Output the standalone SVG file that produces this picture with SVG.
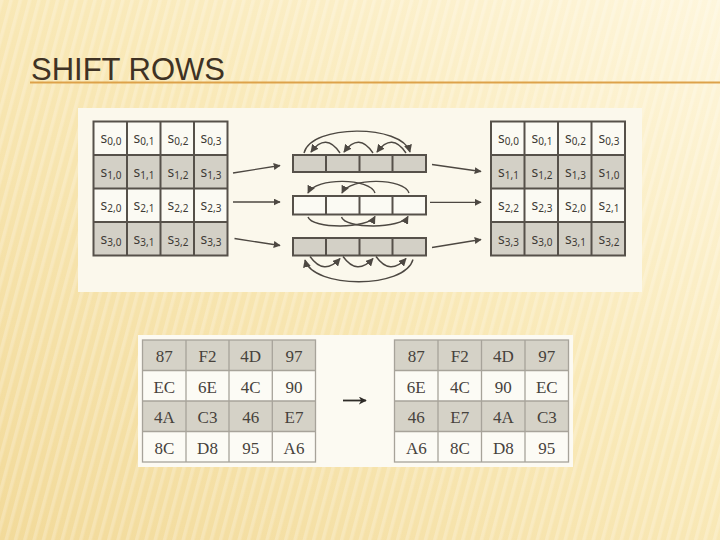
<svg xmlns="http://www.w3.org/2000/svg" width="720" height="540" viewBox="0 0 720 540">
<defs>
<linearGradient id="bg" x1="0" y1="1" x2="1" y2="0">
<stop offset="0" stop-color="#f2da9a"/>
<stop offset="0.55" stop-color="#f9e9b8"/>
<stop offset="1" stop-color="#fef6dc"/>
</linearGradient>
<pattern id="stripes" width="9" height="9" patternUnits="userSpaceOnUse" patternTransform="rotate(15)">
<rect x="0" y="0" width="3.5" height="9" fill="#ffffff" opacity="0.22"/>
</pattern>
<marker id="ah" viewBox="0 0 10 10" refX="9" refY="5" markerWidth="7" markerHeight="7" markerUnits="userSpaceOnUse" orient="auto">
<path d="M0,0 L10,5 L0,10 Z" fill="#4d4842"/>
</marker>
<marker id="ahs" viewBox="0 0 10 10" refX="9" refY="5" markerWidth="8" markerHeight="8" markerUnits="userSpaceOnUse" orient="auto">
<path d="M0,0 L10,5 L0,10 Z" fill="#4d4842"/>
</marker>
<marker id="ahb" viewBox="0 0 10 10" refX="9" refY="5" markerWidth="8" markerHeight="8" markerUnits="userSpaceOnUse" orient="auto">
<path d="M0,0 L10,5 L0,10 L3,5 Z" fill="#2e2b28"/>
</marker>
</defs>
<style>
.title{font-family:"Liberation Sans",Arial,sans-serif;font-size:31px;fill:#3f3224}
.sc{stroke:#56514a;stroke-width:2}
.g{fill:#d3d0c6}
.w{fill:#fbfaf3}
.s{font-family:"Noto Sans","Open Sans",sans-serif;font-size:14px;fill:#3e3a35;text-anchor:middle}
.sub{font-size:10px}
.bc{stroke:#a7a39a;stroke-width:1.3}
.bg2{fill:#d5d2c7}
.bw{fill:#fcfbf5}
.n{font-family:"Liberation Serif","Times New Roman",serif;font-size:17px;fill:#47423c;text-anchor:middle}
.c{fill:none;stroke:#4d4842;stroke-width:1.4}
.a{fill:none;stroke:#4d4842;stroke-width:1.3}
</style>
<rect x="0" y="0" width="720" height="540" fill="url(#bg)"/>
<rect x="0" y="0" width="720" height="540" fill="url(#stripes)"/>
<text class="title" x="31" y="80">SHIFT ROWS</text>
<line x1="30" y1="82.5" x2="720" y2="82.5" stroke="#dda24a" stroke-width="2"/>

<rect x="78" y="108" width="564" height="184" fill="#fbf8ec"/>
<rect x="138" y="335" width="435" height="132" fill="#fcfaf2"/>

<g id="left-state">
<rect class="w" x="93.5" y="121.5" width="134" height="33.5"/>
<rect class="g" x="93.5" y="155" width="134" height="33.5"/>
<rect class="w" x="93.5" y="188.5" width="134" height="33.5"/>
<rect class="g" x="93.5" y="222" width="134" height="33.5"/>
<g class="sc" fill="none">
<rect x="93.5" y="121.5" width="134" height="134"/>
<line x1="127" y1="121.5" x2="127" y2="255.5"/><line x1="160.5" y1="121.5" x2="160.5" y2="255.5"/><line x1="194" y1="121.5" x2="194" y2="255.5"/>
<line x1="93.5" y1="155" x2="227.5" y2="155"/><line x1="93.5" y1="188.5" x2="227.5" y2="188.5"/><line x1="93.5" y1="222" x2="227.5" y2="222"/>
</g>
<text class="s" x="111" y="143">s<tspan class="sub" dy="2">0,0</tspan></text>
<text class="s" x="144" y="143">s<tspan class="sub" dy="2">0,1</tspan></text>
<text class="s" x="178" y="143">s<tspan class="sub" dy="2">0,2</tspan></text>
<text class="s" x="211" y="143">s<tspan class="sub" dy="2">0,3</tspan></text>
<text class="s" x="111" y="176.5">s<tspan class="sub" dy="2">1,0</tspan></text>
<text class="s" x="144" y="176.5">s<tspan class="sub" dy="2">1,1</tspan></text>
<text class="s" x="178" y="176.5">s<tspan class="sub" dy="2">1,2</tspan></text>
<text class="s" x="211" y="176.5">s<tspan class="sub" dy="2">1,3</tspan></text>
<text class="s" x="111" y="210">s<tspan class="sub" dy="2">2,0</tspan></text>
<text class="s" x="144" y="210">s<tspan class="sub" dy="2">2,1</tspan></text>
<text class="s" x="178" y="210">s<tspan class="sub" dy="2">2,2</tspan></text>
<text class="s" x="211" y="210">s<tspan class="sub" dy="2">2,3</tspan></text>
<text class="s" x="111" y="243.5">s<tspan class="sub" dy="2">3,0</tspan></text>
<text class="s" x="144" y="243.5">s<tspan class="sub" dy="2">3,1</tspan></text>
<text class="s" x="178" y="243.5">s<tspan class="sub" dy="2">3,2</tspan></text>
<text class="s" x="211" y="243.5">s<tspan class="sub" dy="2">3,3</tspan></text>
</g>

<g id="right-state">
<rect class="w" x="491" y="121.5" width="134" height="33.5"/>
<rect class="g" x="491" y="155" width="134" height="33.5"/>
<rect class="w" x="491" y="188.5" width="134" height="33.5"/>
<rect class="g" x="491" y="222" width="134" height="33.5"/>
<g class="sc" fill="none">
<rect x="491" y="121.5" width="134" height="134"/>
<line x1="524.5" y1="121.5" x2="524.5" y2="255.5"/><line x1="558" y1="121.5" x2="558" y2="255.5"/><line x1="591.5" y1="121.5" x2="591.5" y2="255.5"/>
<line x1="491" y1="155" x2="625" y2="155"/><line x1="491" y1="188.5" x2="625" y2="188.5"/><line x1="491" y1="222" x2="625" y2="222"/>
</g>
<text class="s" x="508.5" y="143">s<tspan class="sub" dy="2">0,0</tspan></text>
<text class="s" x="542" y="143">s<tspan class="sub" dy="2">0,1</tspan></text>
<text class="s" x="575.5" y="143">s<tspan class="sub" dy="2">0,2</tspan></text>
<text class="s" x="609" y="143">s<tspan class="sub" dy="2">0,3</tspan></text>
<text class="s" x="508.5" y="176.5">s<tspan class="sub" dy="2">1,1</tspan></text>
<text class="s" x="542" y="176.5">s<tspan class="sub" dy="2">1,2</tspan></text>
<text class="s" x="575.5" y="176.5">s<tspan class="sub" dy="2">1,3</tspan></text>
<text class="s" x="609" y="176.5">s<tspan class="sub" dy="2">1,0</tspan></text>
<text class="s" x="508.5" y="210">s<tspan class="sub" dy="2">2,2</tspan></text>
<text class="s" x="542" y="210">s<tspan class="sub" dy="2">2,3</tspan></text>
<text class="s" x="575.5" y="210">s<tspan class="sub" dy="2">2,0</tspan></text>
<text class="s" x="609" y="210">s<tspan class="sub" dy="2">2,1</tspan></text>
<text class="s" x="508.5" y="243.5">s<tspan class="sub" dy="2">3,3</tspan></text>
<text class="s" x="542" y="243.5">s<tspan class="sub" dy="2">3,0</tspan></text>
<text class="s" x="575.5" y="243.5">s<tspan class="sub" dy="2">3,1</tspan></text>
<text class="s" x="609" y="243.5">s<tspan class="sub" dy="2">3,2</tspan></text>
</g>

<g id="row1-strip">
<rect class="g sc" x="293" y="155" width="133" height="17"/>
<g class="sc"><line x1="326" y1="155" x2="326" y2="172"/><line x1="359.5" y1="155" x2="359.5" y2="172"/><line x1="392.5" y1="155" x2="392.5" y2="172"/></g>
</g>
<g id="row2-strip">
<rect class="w sc" x="293" y="196" width="133" height="18.5"/>
<g class="sc"><line x1="326" y1="196" x2="326" y2="214.5"/><line x1="359.5" y1="196" x2="359.5" y2="214.5"/><line x1="392.5" y1="196" x2="392.5" y2="214.5"/></g>
</g>
<g id="row3-strip">
<rect class="g sc" x="293" y="238" width="133" height="17.5"/>
<g class="sc"><line x1="326" y1="238" x2="326" y2="255.5"/><line x1="359.5" y1="238" x2="359.5" y2="255.5"/><line x1="392.5" y1="238" x2="392.5" y2="255.5"/></g>
</g>

<g id="connectors">
<line class="a" x1="233" y1="173" x2="280" y2="165.5" marker-end="url(#ah)"/>
<line class="a" x1="233" y1="202" x2="280" y2="202" marker-end="url(#ah)"/>
<line class="a" x1="234.5" y1="238.5" x2="280" y2="245.5" marker-end="url(#ah)"/>
<line class="a" x1="432" y1="164.5" x2="481" y2="171.5" marker-end="url(#ah)"/>
<line class="a" x1="430" y1="202.3" x2="481" y2="202.3" marker-end="url(#ah)"/>
<line class="a" x1="432" y1="247.5" x2="481" y2="239.5" marker-end="url(#ah)"/>
<path class="c" d="M340,153 Q326,132 311,152" marker-end="url(#ahs)"/>
<path class="c" d="M373,153 Q359,132 344,152" marker-end="url(#ahs)"/>
<path class="c" d="M406,153 Q392,132 377,152" marker-end="url(#ahs)"/>
<path class="c" d="M304,153 C311,124 402,124 410,152" marker-end="url(#ahs)"/>
<path class="c" d="M375,193 C370,178 316,177 308,193" marker-end="url(#ahs)"/>
<path class="c" d="M409,193 C404,178 350,177 342,193" marker-end="url(#ahs)"/>
<path class="c" d="M308,217 C312,229 368,229 375,216.5" marker-end="url(#ahs)"/>
<path class="c" d="M341.5,217 C345,229 401,229 408,216.5" marker-end="url(#ahs)"/>
<path class="c" d="M310,256.5 Q324,276 340,258.5" marker-end="url(#ahs)"/>
<path class="c" d="M343,256.5 Q357,276 373,258.5" marker-end="url(#ahs)"/>
<path class="c" d="M376,256.5 Q390,276 406,258.5" marker-end="url(#ahs)"/>
<path class="c" d="M413,259.5 C405,289 313,289 305,260" marker-end="url(#ahs)"/>
<line x1="343" y1="400.5" x2="366" y2="400.5" stroke="#2e2b28" stroke-width="1.8" marker-end="url(#ahb)"/>
</g>

<g id="left-table">
<rect class="bg2" x="142.5" y="340" width="173" height="30.5"/>
<rect class="bw" x="142.5" y="370.5" width="173" height="30.5"/>
<rect class="bg2" x="142.5" y="401" width="173" height="30.5"/>
<rect class="bw" x="142.5" y="431.5" width="173" height="30.5"/>
<g class="bc" fill="none">
<rect x="142.5" y="340" width="173" height="122"/>
<line x1="186" y1="340" x2="186" y2="462"/><line x1="229" y1="340" x2="229" y2="462"/><line x1="272.3" y1="340" x2="272.3" y2="462"/>
<line x1="142.5" y1="370.5" x2="315.5" y2="370.5"/><line x1="142.5" y1="401" x2="315.5" y2="401"/><line x1="142.5" y1="431.5" x2="315.5" y2="431.5"/>
</g>
<text class="n" x="164.3" y="362">87</text><text class="n" x="207.5" y="362">F2</text><text class="n" x="250.7" y="362">4D</text><text class="n" x="294" y="362">97</text>
<text class="n" x="164.3" y="392.5">EC</text><text class="n" x="207.5" y="392.5">6E</text><text class="n" x="250.7" y="392.5">4C</text><text class="n" x="294" y="392.5">90</text>
<text class="n" x="164.3" y="423">4A</text><text class="n" x="207.5" y="423">C3</text><text class="n" x="250.7" y="423">46</text><text class="n" x="294" y="423">E7</text>
<text class="n" x="164.3" y="453.5">8C</text><text class="n" x="207.5" y="453.5">D8</text><text class="n" x="250.7" y="453.5">95</text><text class="n" x="294" y="453.5">A6</text>
</g>

<g id="right-table">
<rect class="bg2" x="394.5" y="340" width="174" height="30.5"/>
<rect class="bw" x="394.5" y="370.5" width="174" height="30.5"/>
<rect class="bg2" x="394.5" y="401" width="174" height="30.5"/>
<rect class="bw" x="394.5" y="431.5" width="174" height="30.5"/>
<g class="bc" fill="none">
<rect x="394.5" y="340" width="174" height="122"/>
<line x1="438" y1="340" x2="438" y2="462"/><line x1="481.5" y1="340" x2="481.5" y2="462"/><line x1="525" y1="340" x2="525" y2="462"/>
<line x1="394.5" y1="370.5" x2="568.5" y2="370.5"/><line x1="394.5" y1="401" x2="568.5" y2="401"/><line x1="394.5" y1="431.5" x2="568.5" y2="431.5"/>
</g>
<text class="n" x="416.3" y="362">87</text><text class="n" x="459.8" y="362">F2</text><text class="n" x="503.3" y="362">4D</text><text class="n" x="546.8" y="362">97</text>
<text class="n" x="416.3" y="392.5">6E</text><text class="n" x="459.8" y="392.5">4C</text><text class="n" x="503.3" y="392.5">90</text><text class="n" x="546.8" y="392.5">EC</text>
<text class="n" x="416.3" y="423">46</text><text class="n" x="459.8" y="423">E7</text><text class="n" x="503.3" y="423">4A</text><text class="n" x="546.8" y="423">C3</text>
<text class="n" x="416.3" y="453.5">A6</text><text class="n" x="459.8" y="453.5">8C</text><text class="n" x="503.3" y="453.5">D8</text><text class="n" x="546.8" y="453.5">95</text>
</g>
</svg>
